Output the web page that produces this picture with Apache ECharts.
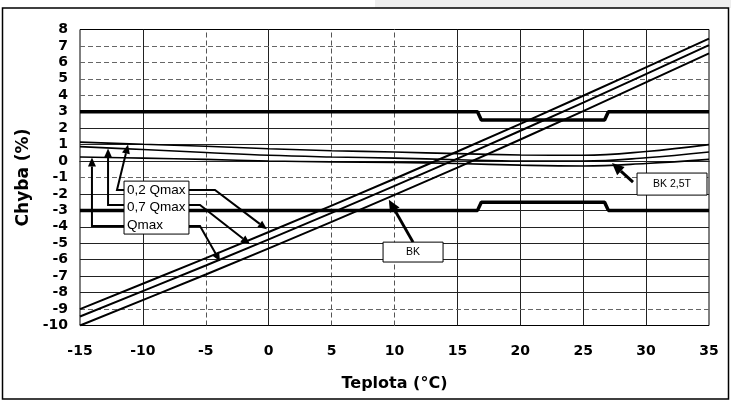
<!DOCTYPE html>
<html><head><meta charset="utf-8">
<script src="https://cdn.jsdelivr.net/npm/echarts@6/dist/echarts.min.js"></script>
<style>html,body{margin:0;padding:0;background:#fff}#c{width:731px;height:402px}</style>
</head><body><div id="c"></div>
<script>
// ---- data ----
const xMin = -15, xMax = 35, xStep = 5;
const yMin = -10, yMax = 8, yStep = 1;

// BK error lines (slightly convex)
const bkX  = [-15, -5, 5, 15, 25, 35];
const bk02 = [-9.0, -5.9, -2.71, 0.58, 3.97, 7.45];
const bk07 = [-9.45, -6.35, -3.15, 0.15, 3.55, 7.05];
const bkQ  = [-10.0, -6.9, -3.7, -0.4, 3.04, 6.55];

// BK 2,5T error curves
const tX   = [-15, -10, -5, 0, 5, 10, 15, 20, 25, 30, 35];
const t02  = [1.15, 1.02, 0.9, 0.75, 0.63, 0.55, 0.45, 0.37, 0.35, 0.58, 1.0];
const t07  = [0.88, 0.7, 0.52, 0.35, 0.25, 0.18, 0.08, 0.0, 0.0, 0.2, 0.55];
const tQ   = [0.25, 0.18, 0.1, 0.0, -0.05, -0.08, -0.15, -0.25, -0.3, -0.15, 0.1];

// error limits
const limX  = [-15, 16.6, 16.9, 26.7, 27.0, 35];
const limUp = [3, 3, 2.5, 2.5, 3, 3];
const limLo = [-3, -3, -2.5, -2.5, -3, -3];

// grid line styles
const dashedX = [-5, 5, 10];
const dashedY = [7, 6, 5, 4, -1, -9];

// annotations (data coordinates)
const boxLegendText = '0,2 Qmax\n0,7 Qmax\nQmax';
const boxLegend = [[-11.5, -1.22], [-6.34, -4.44]];
const boxBK = [[9.09, -4.93], [13.86, -6.14]];
const boxBKT = [[29.28, -0.73], [34.84, -2.07]];
const arrows = [
  {pts: [[-11.5, -1.76], [-12.06, -1.76], [-11.18, 1.0]], w: 2},
  {pts: [[-11.5, -2.67], [-12.77, -2.67], [-12.77, 0.76]], w: 2},
  {pts: [[-11.5, -3.95], [-14.05, -3.95], [-14.05, 0.22]], w: 2},
  {pts: [[-6.34, -1.76], [-4.27, -1.76], [-0.14, -4.15]], w: 2},
  {pts: [[-6.34, -2.67], [-5.46, -2.67], [-1.49, -5.05]], w: 2},
  {pts: [[-6.34, -3.95], [-5.46, -3.95], [-3.87, -6.1]], w: 2},
  {pts: [[11.47, -4.93], [9.55, -2.35]], w: 3},
  {pts: [[28.96, -1.28], [27.29, -0.12]], w: 3}
];

// ---- build ----
const zip = (xs, ys) => xs.map((x, i) => [x, ys[i]]);
const gridVals = (a, b, s) => { const r = []; for (let v = a; v <= b + 1e-9; v += s) r.push(v); return r; };

const gridLines = [];
gridVals(xMin + xStep, xMax - xStep, xStep).forEach(v => {
  const d = dashedX.includes(v);
  gridLines.push({xAxis: v, lineStyle: {color: d ? '#555' : '#222', width: 1, type: d ? [5, 3] : 'solid'}});
});
gridVals(yMin + yStep, yMax - yStep, yStep).forEach(v => {
  const d = dashedY.includes(v);
  gridLines.push({yAxis: v, lineStyle: {color: d ? '#666' : '#222', width: 1, type: d ? [5, 3] : 'solid'}});
});

const lineSeries = (data, w, smooth) => ({
  type: 'line', data: data, showSymbol: false, symbol: 'none', smooth: smooth || false,
  lineStyle: {color: '#000', width: w}, z: 5, silent: true, animation: false
});

const option = {
  animation: false,
  backgroundColor: '#fff',
  grid: {left: 80, right: 22, top: 29.5, bottom: 76.5, show: true, borderColor: '#000', borderWidth: 1},
  xAxis: {
    type: 'value', min: xMin, max: xMax, interval: xStep,
    name: 'Teplota (°C)', nameLocation: 'middle', nameGap: 50,
    nameTextStyle: {fontFamily: 'DejaVu Sans', fontWeight: 'bold', fontSize: 16, color: '#000'},
    axisLine: {show: true, lineStyle: {color: '#000', width: 1}},
    axisTick: {show: false},
    splitLine: {show: false},
    axisLabel: {fontFamily: 'DejaVu Sans', fontWeight: 'bold', fontSize: 14, color: '#000', margin: 19}
  },
  yAxis: {
    type: 'value', min: yMin, max: yMax, interval: yStep,
    name: 'Chyba (%)', nameLocation: 'middle', nameGap: 45,
    nameTextStyle: {fontFamily: 'DejaVu Sans', fontWeight: 'bold', fontSize: 17, color: '#000'},
    axisLine: {show: true, lineStyle: {color: '#000', width: 1}},
    axisTick: {show: false},
    splitLine: {show: false},
    axisLabel: {fontFamily: 'DejaVu Sans', fontWeight: 'bold', fontSize: 14, color: '#000', margin: 12}
  },
  series: [
    {type: 'line', data: [], silent: true,
     markLine: {silent: true, symbol: 'none', label: {show: false}, animation: false, data: gridLines}},
    lineSeries(zip(limX, limUp), 3.5),
    lineSeries(zip(limX, limLo), 3.5),
    lineSeries(zip(tX, t02), 1.6, 0.4),
    lineSeries(zip(tX, t07), 1.6, 0.4),
    lineSeries(zip(tX, tQ), 1.6, 0.4),
    lineSeries(zip(bkX, bk02), 2, 0.3),
    lineSeries(zip(bkX, bk07), 2, 0.3),
    lineSeries(zip(bkX, bkQ), 2, 0.3)
  ]
};

const chart = echarts.init(document.getElementById('c'));
chart.setOption(option);

const P = p => chart.convertToPixel({gridIndex: 0}, p);
const g = [];
// outer frame and grey band
g.push({type: 'rect', shape: {x: 375, y: 0, width: 356, height: 8}, style: {fill: '#eeeeee'}, z: 0});
g.push({type: 'rect', shape: {x: 2.5, y: 8, width: 726, height: 391}, style: {fill: null, stroke: '#000', lineWidth: 1.5}, z: 0});

arrows.forEach(a => {
  const pts = a.pts.map(P);
  const n = pts.length;
  const tip = pts[n - 1], prev = pts[n - 2];
  const dx = tip[0] - prev[0], dy = tip[1] - prev[1];
  const L = Math.hypot(dx, dy), ux = dx / L, uy = dy / L;
  const hl = a.w > 2 ? 12 : 9, hw = a.w > 2 ? 5.5 : 4;
  const base = [tip[0] - ux * hl, tip[1] - uy * hl];
  const line = pts.slice(0, n - 1).concat([base]);
  g.push({type: 'polyline', shape: {points: line}, style: {stroke: '#000', lineWidth: a.w, fill: null}, z: 100});
  g.push({type: 'polygon', shape: {points: [tip, [base[0] - uy * hw, base[1] + ux * hw], [base[0] + uy * hw, base[1] - ux * hw]]},
          style: {fill: '#000'}, z: 100});
});

function box(b, text, font, align) {
  const a = P(b[0]), c = P(b[1]);
  g.push({type: 'rect', shape: {x: a[0], y: a[1], width: c[0] - a[0], height: c[1] - a[1]},
          style: {fill: '#fff', stroke: '#000', lineWidth: 1}, z: 101});
  const tx = align === 'left' ? a[0] + 3 : (a[0] + c[0]) / 2;
  g.push({type: 'text', x: tx, y: (a[1] + c[1]) / 2, z: 102,
          style: {text: text, font: font, fill: '#000', textAlign: align, textVerticalAlign: 'middle', lineHeight: 17.5}});
}
box(boxLegend, boxLegendText, '13.5px "Liberation Sans"', 'left');
box(boxBK, 'BK', '10.5px "Liberation Sans"', 'center');
box(boxBKT, 'BK 2,5T', '10.5px "Liberation Sans"', 'center');

chart.setOption({graphic: g});
</script>
</body></html>
